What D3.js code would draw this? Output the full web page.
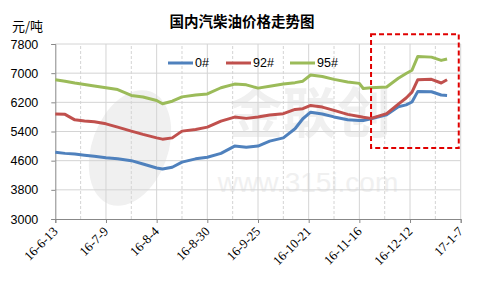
<!DOCTYPE html>
<html>
<head>
<meta charset="utf-8">
<script src="https://cdn.jsdelivr.net/npm/d3@7"></script>
<style>
  body { margin: 0; background: #fff; }
  svg { display: block; }
</style>
</head>
<body>
<svg class="chart"></svg>
<script>
var width = 484, height = 292;

// data
var dates = ["2016-06-13","2016-06-18","2016-06-23","2016-06-28","2016-07-03","2016-07-09","2016-07-15",
  "2016-07-22","2016-07-28","2016-08-04","2016-08-07","2016-08-12","2016-08-17","2016-08-24","2016-08-30",
  "2016-09-06","2016-09-13","2016-09-19","2016-09-25","2016-10-01","2016-10-08","2016-10-14","2016-10-18",
  "2016-10-22","2016-10-28","2016-11-03","2016-11-10","2016-11-16","2016-11-18","2016-11-22","2016-11-30",
  "2016-12-06","2016-12-10","2016-12-13","2016-12-16","2016-12-23","2016-12-28","2016-12-31"];
var diesel0 = [4830,4800,4780,4750,4720,4680,4650,4600,4510,4400,4370,4420,4560,4650,4695,4800,5000,4970,
  5000,5135,5225,5475,5750,5930,5880,5800,5720,5700,5700,5750,5860,6080,6130,6210,6500,6490,6400,6390];
var gas92 = [5880,5870,5720,5690,5670,5610,5520,5410,5320,5225,5190,5225,5410,5455,5520,5685,5795,5760,
  5795,5850,5890,6005,6025,6115,6070,5980,5870,5810,5790,5760,5890,6150,6320,6480,6820,6830,6730,6820];
var gas95 = [6820,6780,6730,6690,6650,6600,6550,6390,6345,6250,6160,6230,6350,6400,6430,6600,6700,6680,
  6590,6640,6700,6740,6780,6950,6910,6830,6760,6720,6580,6600,6620,6860,6990,7080,7460,7440,7350,7390];
var seriesNames = ["0#", "92#", "95#"];
var seriesColors = ["#4f81bd", "#c0504d", "#9bbb59"];
var xTicks = ["2016-06-13","2016-07-09","2016-08-04","2016-08-30","2016-09-25","2016-10-21",
  "2016-11-16","2016-12-12","2017-01-07"];
var yTicks = [3000, 3800, 4600, 5400, 6200, 7000, 7800];
// highlighted region (dates / values)
var boxRange = { from: "2016-11-22", to: "2017-01-06", lo: 4950, hi: 8070 };

var parse = d3.timeParse("%Y-%m-%d");
var fmt = d => `${String(d.getFullYear()).slice(2)}-${d.getMonth() + 1}-${d.getDate()}`;

var x = d3.scaleTime()
    .domain([parse(xTicks[0]), parse(xTicks[xTicks.length - 1])])
    .range([55.3, 460.7]);
var y = d3.scaleLinear().domain([3000, 7800]).range([219, 44]);

var svg = d3.select(".chart").attr("width", width).attr("height", height);

// watermark
var wm = svg.append("g").attr("fill", "#f0f0f0");
wm.append("ellipse").attr("cx", 130).attr("cy", 148).attr("rx", 38).attr("ry", 60)
    .attr("transform", "rotate(20,130,148)");
wm.append("text").attr("x", 310).attr("y", 133).attr("text-anchor", "middle")
    .style("font", "bold 54px 'Noto Sans CJK SC'").text("金联创");
wm.append("text").attr("x", 308).attr("y", 192).attr("text-anchor", "middle")
    .style("font", "28px 'Liberation Sans'").text("www.315i.com");

// grid
var grid = svg.append("g");
grid.selectAll(".hg").data(yTicks.slice(1)).join("line")
    .attr("x1", x.range()[0]).attr("x2", x.range()[1])
    .attr("y1", d => y(d)).attr("y2", d => y(d))
    .attr("stroke", "#d4d4d4").attr("stroke-width", 1);
var tickDates = xTicks.map(parse);
grid.selectAll(".vg").data(tickDates.slice(1)).join("line")
    .attr("x1", d => x(d)).attr("x2", d => x(d))
    .attr("y1", y(3000)).attr("y2", y(7800))
    .attr("stroke", "#d4d4d4");
grid.selectAll(".vm").data(tickDates.slice(1).map(d => d3.timeDay.offset(d, -13))).join("line")
    .attr("x1", d => x(d)).attr("x2", d => x(d))
    .attr("y1", y(3000)).attr("y2", y(7800))
    .attr("stroke", "#d4d4d4").attr("stroke-dasharray", "3,2");

// axes
var yAxis = svg.append("g")
    .attr("transform", `translate(${x.range()[0]},0)`)
    .call(d3.axisLeft(y).tickValues(yTicks).tickFormat(d3.format("d")).tickSize(4).tickPadding(13));
var xAxis = svg.append("g")
    .attr("transform", `translate(0,${y(3000)})`)
    .call(d3.axisBottom(x).tickValues(tickDates).tickSize(4).tickFormat(""));
svg.selectAll(".domain, .tick line").attr("stroke", "#888");
yAxis.selectAll("text")
    .style("font", "12.5px 'Liberation Sans'").attr("fill", "#000");

svg.append("g").selectAll("text").data(tickDates).join("text")
    .attr("transform", d => `translate(${x(d)},${y(3000) + 10}) rotate(-45)`)
    .attr("text-anchor", "end").attr("dy", "0.35em")
    .style("font", "13px 'Liberation Serif'").attr("fill", "#000")
    .text(fmt);

// lines
var table = [diesel0, gas92, gas95].map((vals, i) => ({
  name: seriesNames[i], color: seriesColors[i],
  values: vals.map((v, j) => ({ date: parse(dates[j]), v: v }))
}));
var line = d3.line().x(d => x(d.date)).y(d => y(d.v));
svg.append("g").selectAll("path").data(table).join("path")
    .attr("d", d => line(d.values))
    .attr("fill", "none").attr("stroke", d => d.color)
    .attr("stroke-width", 3).attr("stroke-linejoin", "round");

// highlight box
svg.append("rect")
    .attr("x", x(parse(boxRange.from))).attr("y", y(boxRange.hi))
    .attr("width", x(parse(boxRange.to)) - x(parse(boxRange.from)))
    .attr("height", y(boxRange.lo) - y(boxRange.hi))
    .attr("fill", "none").attr("stroke", "#e00000")
    .attr("stroke-width", 2).attr("stroke-dasharray", "5,3");

// legend
var leg = svg.append("g").selectAll("g").data(table).join("g")
    .attr("transform", (d, i) => `translate(${[168, 226, 290][i]},63)`);
leg.append("line").attr("x1", 0).attr("x2", 25)
    .attr("stroke", d => d.color).attr("stroke-width", 3);
leg.append("text").attr("x", 27).attr("dy", "0.35em")
    .style("font", "12.5px 'Liberation Sans'").text(d => d.name);

// title
svg.append("text").attr("x", 242).attr("y", 27).attr("text-anchor", "middle")
    .style("font", "bold 14.5px 'Noto Sans CJK SC'").text("国内汽柴油价格走势图");
svg.append("text").attr("x", 12).attr("y", 31)
    .style("font", "13px 'Noto Sans CJK SC'").text("元/吨");
</script>
</body>
</html>
